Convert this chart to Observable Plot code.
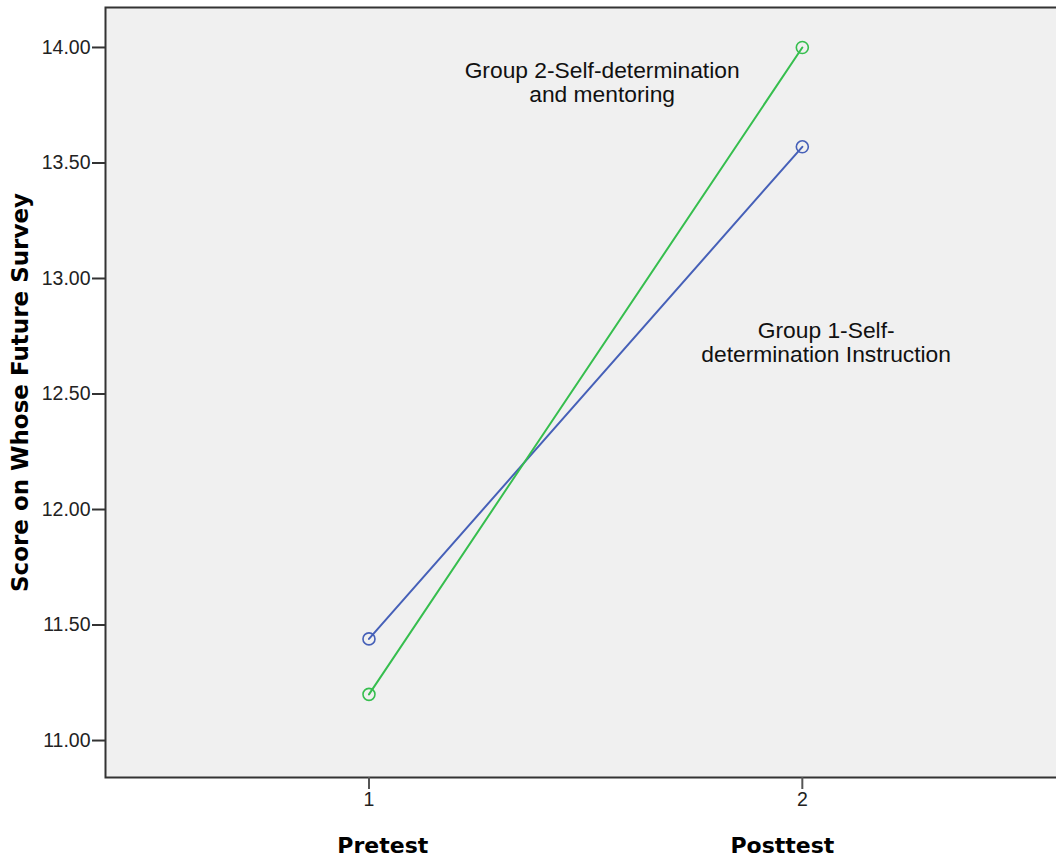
<!DOCTYPE html>
<html>
<head>
<meta charset="utf-8">
<script src="https://cdn.jsdelivr.net/npm/d3@7"></script>
<script src="https://cdn.jsdelivr.net/npm/@observablehq/plot@0.6"></script>
<style>
  html, body { margin: 0; padding: 0; background: #fff; overflow: hidden; }
  #chart { width: 1056px; height: 857px; overflow: hidden; }
  #chart svg { max-width: none !important; display: block; }
</style>
</head>
<body>
<div id="chart"></div>
<script>
// ---- data ----
const phases = [1, 2];
const phaseNames = ["Pretest", "Posttest"];
const phaseNameX = [1.032, 1.954];
const groups = ["Group 1-Self-determination Instruction", "Group 2-Self-determination and mentoring"];
const group1Scores = [11.44, 13.57];
const group2Scores = [11.20, 14.00];
const groupColors = ["#4660B8", "#36BE4E"];
const groupLabels = ["Group 1-Self-\ndetermination Instruction", "Group 2-Self-determination\nand mentoring"];
const groupLabelX = [2.055, 1.538];
const groupLabelY = [12.725, 13.85];
const yTicks = [11.0, 11.5, 12.0, 12.5, 13.0, 13.5, 14.0];
const xTicks = [1, 2];
const yTitle = "Score on Whose Future Survey";

// ---- tables ----
const rows = [];
phases.forEach((p, i) => {
  rows.push({phase: p, score: group1Scores[i], group: groups[0]});
  rows.push({phase: p, score: group2Scores[i], group: groups[1]});
});
const labelRows = groupLabels.map((t, i) => ({text: t, x: groupLabelX[i], y: groupLabelY[i]}));
const phaseRows = phaseNames.map((t, i) => ({text: t, x: phaseNameX[i]}));

const chart = Plot.plot({
  width: 1066,
  height: 857,
  marginLeft: 105,
  marginRight: 2,
  marginTop: 7,
  marginBottom: 80,
  style: {fontFamily: "'Liberation Sans', Arial, sans-serif", color: "#222", background: "#fff", maxWidth: "none"},
  x: {domain: [0.392, 2.605]},
  y: {domain: [10.84, 14.173]},
  color: {domain: groups, range: groupColors},
  marks: [
    Plot.frame({fill: "#f0f0f0", stroke: "#333", strokeWidth: 2}),
    Plot.axisY({ticks: yTicks, tickFormat: d => d.toFixed(2), tickSize: 13, tickPadding: 2, fontSize: 19.5, strokeWidth: 2, stroke: "#333", label: null}),
    Plot.axisX({ticks: xTicks, tickFormat: d => String(d), tickSize: 12, tickPadding: 3, fontSize: 19.5, strokeWidth: 2, stroke: "#555", label: null}),
    Plot.line(rows, {x: "phase", y: "score", z: "group", stroke: "group", strokeWidth: 2}),
    Plot.dot(rows, {x: "phase", y: "score", stroke: "group", r: 6, strokeWidth: 1.6, fill: "none"}),
    Plot.text(labelRows, {x: "x", y: "y", text: "text", fontSize: 22.8, fill: "#111", textAnchor: "middle", lineAnchor: "middle", lineHeight: 1.07}),
    Plot.text(phaseRows, {x: "x", text: "text", frameAnchor: "bottom", dy: 68, fontSize: 22, fontWeight: "bold", fontFamily: "'DejaVu Sans', sans-serif", fill: "#000", textAnchor: "middle", lineAnchor: "middle"}),
    Plot.text([yTitle], {text: d => d, frameAnchor: "left", dx: -85, rotate: -90, fontSize: 23, fontWeight: "bold", fontFamily: "'DejaVu Sans', sans-serif", fill: "#000", textAnchor: "middle", lineAnchor: "middle"})
  ]
});
document.getElementById("chart").appendChild(chart);
</script>
</body>
</html>
